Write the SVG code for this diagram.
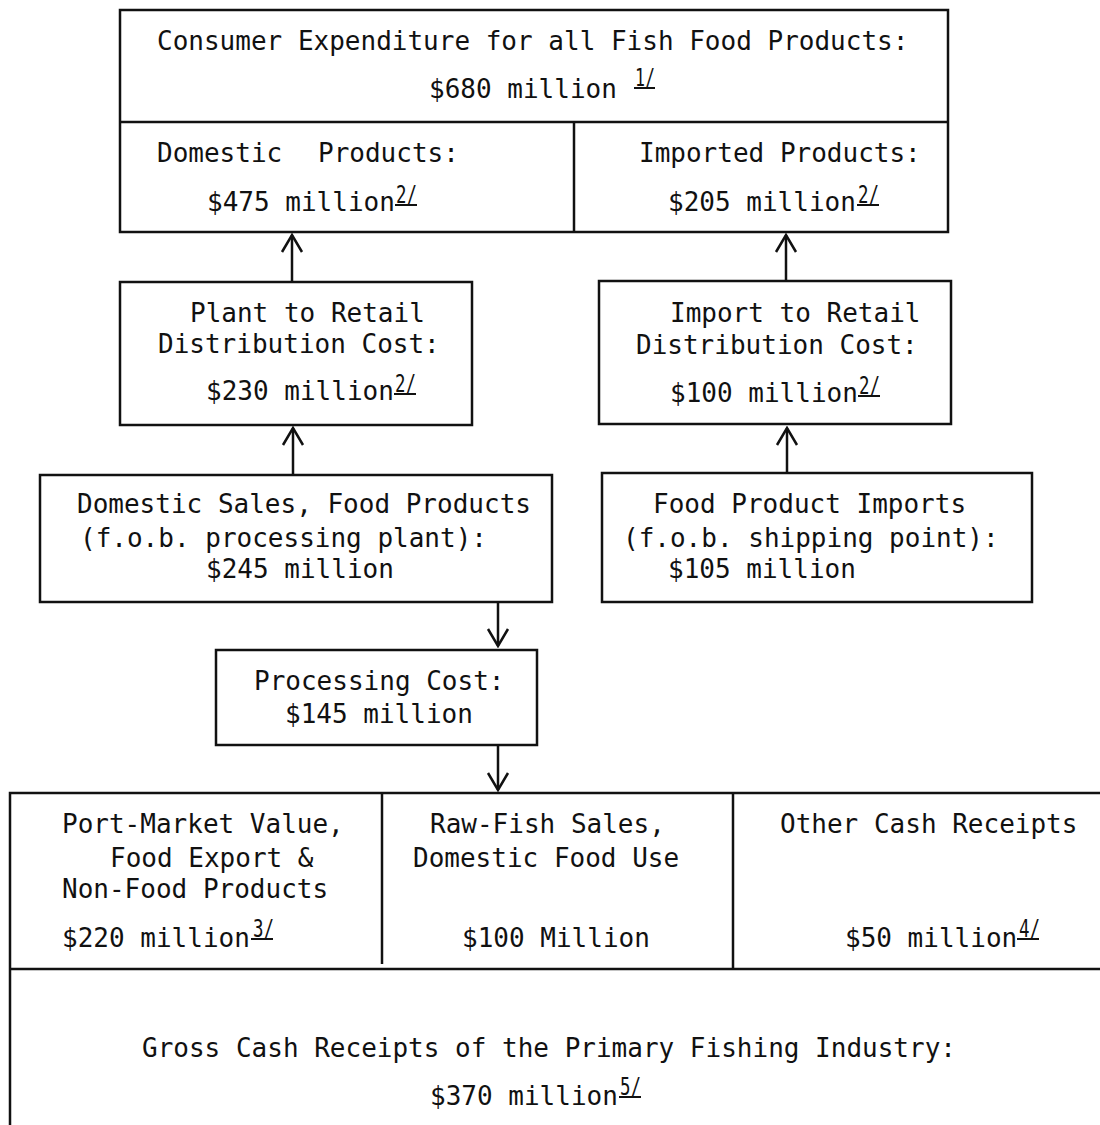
<svg xmlns="http://www.w3.org/2000/svg" width="1100" height="1125" viewBox="0 0 1100 1125">
<style>
  .box { fill: none; stroke: #111; stroke-width: 2.5; }
  .ln { stroke: #111; stroke-width: 2.5; fill: none; }
  .t { font-family: "DejaVu Sans Mono", "Liberation Mono", monospace; font-size: 26px; fill: #111; }
  .sup { font-family: "DejaVu Sans Mono", "Liberation Mono", monospace; font-size: 24px; fill: #111; }
  .ul { stroke: #111; stroke-width: 2; }
  .arrow { stroke: #111; stroke-width: 2.5; fill: none; marker-end: url(#head); }
</style>
<defs>
  <marker id="head" viewBox="-20 -12 22 24" markerWidth="22" markerHeight="24" refX="0" refY="0" orient="auto" markerUnits="userSpaceOnUse">
    <path d="M-17,-10 L0,0 L-17,10" fill="none" stroke="#111" stroke-width="2.5" stroke-linejoin="miter"/>
  </marker>
</defs>
<rect width="1100" height="1125" fill="#fff"/>

<g id="consumer-expenditure">
  <rect class="box" x="120" y="10" width="828" height="222"/>
  <line class="ln" x1="120" y1="122" x2="948" y2="122"/>
  <text class="t" x="157" y="50">Consumer Expenditure for all Fish Food Products:</text>
  <text class="t" x="429" y="98">$680 million</text>
  <text class="sup" x="635" y="86" textLength="20" lengthAdjust="spacingAndGlyphs">1/</text>
  <line class="ul" x1="634" y1="88" x2="655" y2="88"/>
</g>

<g id="domestic-products">
  <line class="ln" x1="574" y1="122" x2="574" y2="232"/>
  <text class="t" x="157" y="162">Domestic <tspan x="318">Products:</tspan></text>
  <text class="t" x="207" y="211">$475 million</text>
  <text class="sup" x="396" y="203" textLength="21" lengthAdjust="spacingAndGlyphs">2/</text>
  <line class="ul" x1="395" y1="205" x2="417" y2="205"/>
</g>

<g id="imported-products">
  <text class="t" x="639" y="162">Imported Products:</text>
  <text class="t" x="668" y="211">$205 million</text>
  <text class="sup" x="858" y="203" textLength="21" lengthAdjust="spacingAndGlyphs">2/</text>
  <line class="ul" x1="857" y1="205" x2="879" y2="205"/>
</g>

<g id="plant-to-retail">
  <rect class="box" x="120" y="282" width="352" height="143"/>
  <text class="t" x="190" y="322">Plant to Retail</text>
  <text class="t" x="158" y="353">Distribution Cost:</text>
  <text class="t" x="206" y="400">$230 million</text>
  <text class="sup" x="395" y="392" textLength="21" lengthAdjust="spacingAndGlyphs">2/</text>
  <line class="ul" x1="394" y1="394" x2="416" y2="394"/>
</g>

<g id="import-to-retail">
  <rect class="box" x="599" y="281" width="352" height="143"/>
  <text class="t" x="670" y="322">Import to Retail</text>
  <text class="t" x="636" y="354">Distribution Cost:</text>
  <text class="t" x="670" y="402">$100 million</text>
  <text class="sup" x="859" y="394" textLength="21" lengthAdjust="spacingAndGlyphs">2/</text>
  <line class="ul" x1="858" y1="396" x2="880" y2="396"/>
</g>

<g id="domestic-sales">
  <rect class="box" x="40" y="475" width="512" height="127"/>
  <text class="t" x="77" y="513">Domestic Sales, Food Products</text>
  <text class="t" x="80" y="547">(f.o.b. processing plant):</text>
  <text class="t" x="206" y="578">$245 million</text>
</g>

<g id="food-product-imports">
  <rect class="box" x="602" y="473" width="430" height="129"/>
  <text class="t" x="653" y="513">Food Product Imports</text>
  <text class="t" x="623" y="547">(f.o.b. shipping point):</text>
  <text class="t" x="668" y="578">$105 million</text>
</g>

<g id="processing-cost">
  <rect class="box" x="216" y="650" width="321" height="95"/>
  <text class="t" x="254" y="690">Processing Cost:</text>
  <text class="t" x="285" y="723">$145 million</text>
</g>

<g id="gross-cash-receipts">
  <rect class="box" x="10" y="793" width="1110" height="350"/>
  <line class="ln" x1="10" y1="969" x2="1100" y2="969"/>
  <text class="t" x="142" y="1057">Gross Cash Receipts of the Primary Fishing Industry:</text>
  <text class="t" x="430" y="1105">$370 million</text>
  <text class="sup" x="620" y="1095" textLength="21" lengthAdjust="spacingAndGlyphs">5/</text>
  <line class="ul" x1="619" y1="1097" x2="641" y2="1097"/>
</g>

<g id="port-market-value">
  <line class="ln" x1="382" y1="793" x2="382" y2="964"/>
  <text class="t" x="62" y="833">Port-Market Value,</text>
  <text class="t" x="110" y="867">Food Export &amp;</text>
  <text class="t" x="62" y="898">Non-Food Products</text>
  <text class="t" x="62" y="947">$220 million</text>
  <text class="sup" x="253" y="937" textLength="21" lengthAdjust="spacingAndGlyphs">3/</text>
  <line class="ul" x1="251" y1="939" x2="273" y2="939"/>
</g>

<g id="raw-fish-sales">
  <text class="t" x="430" y="833">Raw-Fish Sales,</text>
  <text class="t" x="413" y="867">Domestic Food Use</text>
  <text class="t" x="462" y="947">$100 Million</text>
</g>

<g id="other-cash-receipts">
  <line class="ln" x1="733" y1="793" x2="733" y2="969"/>
  <text class="t" x="780" y="833">Other Cash Receipts</text>
  <text class="t" x="845" y="947">$50 million</text>
  <text class="sup" x="1019" y="937" textLength="21" lengthAdjust="spacingAndGlyphs">4/</text>
  <line class="ul" x1="1017" y1="939" x2="1039" y2="939"/>
</g>

<g id="connectors">
  <line class="arrow" x1="292" y1="282" x2="292" y2="235"/>
  <line class="arrow" x1="786" y1="281" x2="786" y2="235"/>
  <line class="arrow" x1="293" y1="475" x2="293" y2="428"/>
  <line class="arrow" x1="787" y1="473" x2="787" y2="428"/>
  <line class="arrow" x1="498" y1="602" x2="498" y2="646"/>
  <line class="arrow" x1="498" y1="745" x2="498" y2="790"/>
</g>
</svg>
